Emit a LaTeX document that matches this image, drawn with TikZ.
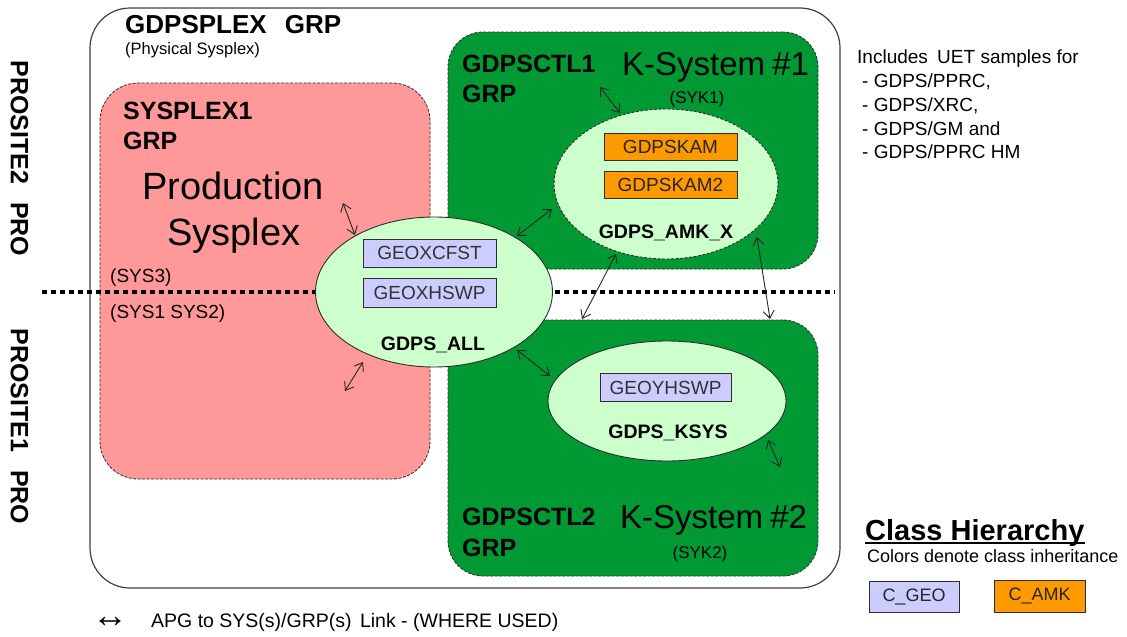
\documentclass[tikz,border=0pt]{standalone}
\usepackage{fontspec}
\setmainfont{Liberation Sans}
\usetikzlibrary{arrows.meta,shapes.geometric}
\definecolor{pinkfill}{RGB}{255,153,153}
\definecolor{dkgreen}{RGB}{0,153,51}
\definecolor{ltgreen}{RGB}{204,255,204}
\definecolor{lavender}{RGB}{204,204,255}
\definecolor{amkorange}{RGB}{255,153,0}
\definecolor{edgecol}{RGB}{45,45,45}
\newcommand\fsz[2]{\fontsize{#1pt}{#2pt}\selectfont}
\tikzset{
  outerbox/.style={draw=black!75, line width=1.2pt, rounded corners=40pt, inner sep=0pt, fill=white},
  grpbox/.style={draw=edgecol, line width=0.8pt, dash pattern=on 3pt off 1.5pt, rounded corners=38pt, inner sep=0pt},
  apg/.style={ellipse, draw=edgecol, line width=0.9pt, fill=ltgreen, inner sep=0pt},
  cls/.style={draw=edgecol, line width=1pt, inner sep=0pt, font=\fsz{19}{22}},
  geo/.style={cls, fill=lavender, text=black!80},
  amk/.style={cls, fill=amkorange, text=black!85},
  link/.style={{Straight Barb[length=7.5pt,width=11pt]}-{Straight Barb[length=7.5pt,width=11pt]}, line width=0.9pt, draw=black!85},
  dotline/.style={line width=4pt, dash pattern=on 5pt off 4pt, draw=black},
  lbl/.style={anchor=base west, inner sep=0pt},
  boldlbl/.style={lbl, font=\bfseries\fsz{25}{30}},
  ctr/.style={anchor=base, inner sep=0pt},
}
\begin{document}
\begin{tikzpicture}[x=1pt,y=-1pt]
\useasboundingbox (0,0) rectangle (1127,637);

% containers
\node[outerbox, minimum width=750pt, minimum height=580pt] (plex) at (465,298) {};
\node[grpbox, fill=pinkfill, minimum width=330pt, minimum height=396pt] (sysplex) at (265,281) {};
\node[grpbox, fill=dkgreen, minimum width=370pt, minimum height=237pt, rounded corners=35pt] (ctl1) at (633,150.5) {};
\node[grpbox, fill=dkgreen, minimum width=370pt, minimum height=256pt, rounded corners=35pt] (ctl2) at (633,448) {};

% site divider
\coordinate (dl1) at (42,292);
\coordinate (dl2) at (835,292);
\draw[dotline] (dl1) -- (dl2);

% APG ellipses
\node[apg, minimum width=237pt, minimum height=150pt] (all) at (434,292) {};
\node[apg, dash pattern=on 3pt off 1.5pt, minimum width=224pt, minimum height=150pt] (amkx) at (666,184) {};
\node[apg, minimum width=238pt, minimum height=120pt] (ksys) at (667,401) {};

% class boxes
\node[geo, minimum width=133pt, minimum height=28pt] (xcfst) at (429.5,253) {GEOXCFST};
\node[geo, minimum width=133pt, minimum height=29pt] (xhswp) at (429.5,292.5) {GEOXHSWP};
\node[amk, minimum width=133pt, minimum height=27pt] (kam) at (670.5,146.5) {GDPSKAM};
\node[amk, minimum width=133pt, minimum height=27pt] (kam2) at (670.5,184.5) {GDPSKAM2};
\node[geo, minimum width=131pt, minimum height=28pt] (yhswp) at (665.5,387.5) {GEOYHSWP};

% APG names
\node[ctr, font=\bfseries\fsz{19.5}{22}] (allname) at (433,350) {GDPS\_ALL};
\node[ctr, font=\bfseries\fsz{19.5}{22}] (amkname) at (666,238) {GDPS\_AMK\_X};
\node[ctr, font=\bfseries\fsz{19.5}{22}] (ksysname) at (668,438) {GDPS\_KSYS};

% group labels
\node[lbl, font=\bfseries\fsz{26}{30}] (plextitle) at (125,33) {GDPSPLEX \hspace{11pt}GRP};
\node[lbl, font=\fsz{16.5}{20}] (plexsub) at (125,54) {(Physical Sysplex)};
\node[boldlbl] (sp1a) at (123,119) {SYSPLEX1};
\node[boldlbl] (sp1b) at (123,149) {GRP};
\node[ctr, font=\fsz{38}{46}] (prod1) at (233,199) {Production};
\node[ctr, font=\fsz{38}{46}] (prod2) at (234,245) {Sysplex};
\node[lbl, font=\fsz{19}{22}] (sys3) at (110,282) {(SYS3)};
\node[lbl, font=\fsz{19}{22}] (sys12) at (110,318) {(SYS1 SYS2)};
\node[boldlbl] (c1a) at (462,72) {GDPSCTL1};
\node[boldlbl] (c1b) at (462,102) {GRP};
\node[lbl, font=\fsz{33}{38}] (ks1) at (622,75) {K-System\hspace{-2pt} \#1};
\node[ctr, font=\fsz{17}{20}] (syk1) at (697,103) {(SYK1)};
\node[boldlbl] (c2a) at (462,525) {GDPSCTL2};
\node[boldlbl] (c2b) at (462,556) {GRP};
\node[lbl, font=\fsz{33}{38}] (ks2) at (620,528) {K-System\hspace{-2pt} \#2};
\node[ctr, font=\fsz{17}{20}] (syk2) at (700,558) {(SYK2)};

% sites
\node[inner sep=0pt, rotate=-90, font=\bfseries\fsz{25}{30}] (site2) at (19.5,158.5) {PROSITE2 \hspace{11pt}PRO};
\node[inner sep=0pt, rotate=-90, font=\bfseries\fsz{25}{30}] (site1) at (19.5,426.5) {PROSITE1 \hspace{11pt}PRO};

% notes
\node[lbl, font=\fsz{19}{22}] (n0) at (857,63) {Includes \hspace{4pt}UET samples for};
\node[lbl, font=\fsz{19}{22}] (n1) at (862,87) {- GDPS/PPRC,};
\node[lbl, font=\fsz{19}{22}] (n2) at (862,111) {- GDPS/XRC,};
\node[lbl, font=\fsz{19}{22}] (n3) at (862,135) {- GDPS/GM and};
\node[lbl, font=\fsz{19}{22}] (n4) at (862,158) {- GDPS/PPRC HM};

% class hierarchy legend
\node[lbl, font=\bfseries\fsz{29}{34}] (ch) at (865,540) {Class Hierarchy};
\draw[line width=2pt] ([yshift=-3pt]ch.base west) -- ([yshift=-3pt]ch.base east);
\node[lbl, font=\fsz{18}{22}] (chsub) at (867,562) {Colors denote class inheritance};
\node[cls, fill=lavender, text=black!85, font=\fsz{18}{22}, minimum width=90pt, minimum height=31pt] (cgeo) at (914,596.5) {C\_GEO};
\node[cls, fill=amkorange, text=black!85, font=\fsz{18}{22}, minimum width=91pt, minimum height=32pt] (camk) at (1039.5,596) {C\_AMK};

% link legend
\node[inner sep=0pt, anchor=center, font=\fsz{36}{40}] (lsym) at (110,622) {↔};
\node[lbl, font=\fsz{19.5}{22}] (ltext) at (151,627) {APG to SYS(s)/GRP(s) \hspace{3pt}Link - (WHERE USED)};

% links
\coordinate (l1a) at (343,203); \coordinate (l1b) at (355,235);
\coordinate (l2a) at (363,362); \coordinate (l2b) at (345,391);
\coordinate (l3a) at (517,236); \coordinate (l3b) at (552,209);
\coordinate (l4a) at (600,87);  \coordinate (l4b) at (620,113);
\coordinate (l5a) at (616,254); \coordinate (l5b) at (582,319);
\coordinate (l6a) at (757,237); \coordinate (l6b) at (770,319);
\coordinate (l7a) at (517,350); \coordinate (l7b) at (550,376);
\coordinate (l8a) at (768,440); \coordinate (l8b) at (780,467);
\draw[link] (l1a) -- (l1b);
\draw[link] (l2a) -- (l2b);
\draw[link] (l3a) -- (l3b);
\draw[link] (l4a) -- (l4b);
\draw[link] (l5a) -- (l5b);
\draw[link] (l6a) -- (l6b);
\draw[link] (l7a) -- (l7b);
\draw[link] (l8a) -- (l8b);
\end{tikzpicture}
\end{document}
